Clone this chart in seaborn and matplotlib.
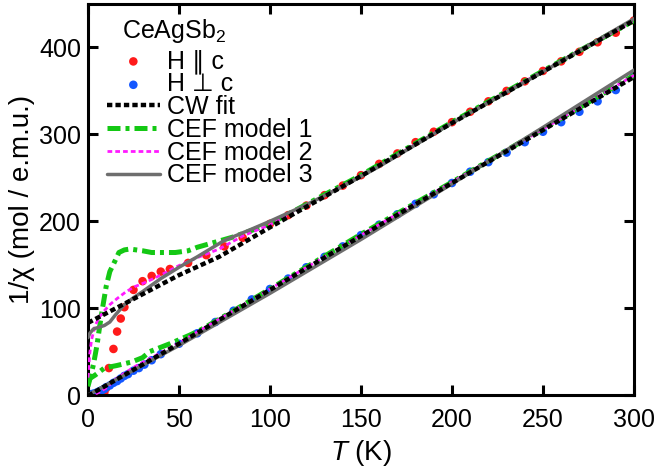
import matplotlib
matplotlib.use('Agg')
import matplotlib.pyplot as plt
import seaborn as sns

# measured 1/chi, H || c
T_par = [2, 3, 4, 5, 6, 7, 8, 9, 10, 11.5, 14, 16, 18, 20, 25, 30, 35, 40, 45,
         55, 65, 75, 85, 100, 110, 120, 130, 140, 150, 160, 170, 180, 190, 200,
         210, 220, 230, 240, 250, 260, 270, 280, 290, 300]
chi_par = [0.5, 0.5, 0.8, 1, 1.2, 1.5, 2, 3, 8, 31, 53, 73, 88, 101, 121, 131, 137, 142, 145,
           152, 161, 171, 181, 197, 207, 218, 230, 241, 253, 266, 278, 291, 303, 314,
           326, 338, 350, 361, 373, 384, 395, 406, 417, 431]

# measured 1/chi, H perp c
T_perp = [2, 3, 4, 5, 6, 7, 8, 9, 10, 12, 14, 16, 18, 20, 22, 25, 28, 31, 35, 40,
          50, 60, 70, 80, 90, 100, 110, 120, 130, 140, 150, 160, 170, 180, 190, 200,
          210, 220, 230, 240, 250, 260, 270, 280, 290, 300]
chi_perp = [1, 1.5, 2, 3, 4, 5, 6, 7, 9, 11, 14, 16, 19, 22, 24, 28, 31, 35, 40, 47,
            59, 71, 84, 97, 110, 122, 134, 147, 159, 171, 184, 196, 208, 220, 231, 244,
            257, 268, 279, 291, 303, 314, 326, 338, 351, 368]

# Curie-Weiss fits
T_cw_par = [0, 10, 30, 50, 72, 100, 150, 200, 250, 300]
cw_par = [83, 94, 116, 138, 159, 193, 252, 313, 372, 431]
T_cw_perp = [0, 50, 100, 150, 200, 250, 300]
cw_perp = [-1, 59, 121, 183, 244, 305, 366]

# CEF model 1
T_m1_par = [0, 1, 3, 5, 6.5, 8, 10, 12, 15, 17, 20, 23, 30, 35, 48, 55, 60, 65, 70,
            80, 100, 150, 200, 250, 300]
m1_par = [10, 18, 35, 58, 80, 100, 125, 142, 155, 164, 167, 168, 166, 164, 164, 166, 170, 173, 176,
          182, 197, 253, 314, 373, 431]
T_m1_perp = [0, 1, 4, 9, 16, 24, 30, 34, 45, 56, 62, 80, 100, 150, 200, 250, 300]
m1_perp = [14, 19, 23, 31, 34, 38, 43, 50, 59, 69, 75, 97, 122, 185, 245, 306, 368]

# CEF model 2
T_m2_par = [0, 1, 2, 4, 6, 9, 12, 16, 21, 26, 32, 40, 50, 60, 72, 85, 100, 150, 200, 250, 300]
m2_par = [20, 48, 64, 80, 89, 97, 104, 111, 119, 125, 130, 138, 149, 158, 168, 183, 196,
          252, 313, 373, 431]
T_m2_perp = [0, 5, 10, 15, 20, 26, 35, 50, 100, 150, 200, 250, 300]
m2_perp = [0, 2, 8, 18, 25, 33, 43, 60, 122, 184, 245, 306, 368]

# CEF model 3
T_m3_par = [0, 1, 3, 6, 9, 12, 15, 20, 25, 30, 40, 50, 60, 75, 90, 100, 120, 140, 160,
            200, 250, 300]
m3_par = [66, 71, 76, 78, 80, 84, 92, 104, 112, 119, 134, 147, 159, 178, 191, 200, 219, 240, 263,
          313, 372, 433]
T_m3_perp = [0, 50, 100, 150, 200, 250, 300]
m3_perp = [0, 57, 117, 179, 243, 308, 374]

sns.set_style('ticks')
plt.rcParams['font.family'] = ['Liberation Sans', 'DejaVu Sans']
plt.rcParams['mathtext.fontset'] = 'custom'
plt.rcParams['mathtext.rm'] = 'Liberation Sans'
plt.rcParams['mathtext.it'] = 'Liberation Sans:italic'
for k in ['text.color', 'axes.labelcolor', 'xtick.color', 'ytick.color', 'axes.edgecolor']:
    plt.rcParams[k] = 'black'

fig, ax = plt.subplots(figsize=(6.58, 4.73), dpi=100)
fig.subplots_adjust(left=0.1337, right=0.9635, top=0.9915, bottom=0.1649)

red = '#ff1a1a'
blue = '#1457ff'
green = '#14c814'
pink = '#ff1aff'
grey = '#6e6e6e'

sns.scatterplot(x=T_par, y=chi_par, color=red, s=38, edgecolor='none', label='H ∥ c', ax=ax, zorder=2)
sns.scatterplot(x=T_perp, y=chi_perp, color=blue, s=38, edgecolor='none', label='H ⊥ c', ax=ax, zorder=2)

cw_style = dict(color='black', lw=3.2, linestyle=(0, (1.2, 0.7)), zorder=6)
m1_style = dict(color=green, lw=3.6, linestyle=(0, (2.6, 1.0, 0.8, 1.0)), zorder=3)
m2_style = dict(color=pink, lw=2.0, linestyle=(0, (1.7, 1.1)), zorder=4)
m3_style = dict(color=grey, lw=2.5, linestyle='-', zorder=5)

sns.lineplot(x=T_cw_par, y=cw_par, label='CW fit', ax=ax, **cw_style)
sns.lineplot(x=T_cw_perp, y=cw_perp, ax=ax, **cw_style)
sns.lineplot(x=T_m1_par, y=m1_par, label='CEF model 1', ax=ax, **m1_style)
sns.lineplot(x=T_m1_perp, y=m1_perp, ax=ax, **m1_style)
sns.lineplot(x=T_m2_par, y=m2_par, label='CEF model 2', ax=ax, **m2_style)
sns.lineplot(x=T_m2_perp, y=m2_perp, ax=ax, **m2_style)
sns.lineplot(x=T_m3_par, y=m3_par, label='CEF model 3', ax=ax, **m3_style)
sns.lineplot(x=T_m3_perp, y=m3_perp, ax=ax, **m3_style)

ax.set_xlim(0, 300)
ax.set_ylim(0, 450)
ax.set_xticks(range(0, 301, 50))
ax.set_yticks(range(0, 401, 100))
ax.tick_params(direction='in', length=7, width=2.2, labelsize=18,
               top=True, right=True)
ax.tick_params(axis='x', pad=9)
ax.tick_params(axis='y', pad=5)
for sp in ax.spines.values():
    sp.set_linewidth(2.2)
    sp.set_visible(True)

ax.set_xlabel('$T$ (K)', fontsize=20, labelpad=5)
ax.set_ylabel('1/χ (mol / e.m.u.)', fontsize=20, labelpad=3)

handles, labels = ax.get_legend_handles_labels()
ax.legend(handles, labels, loc='upper left', bbox_to_anchor=(0.035, 0.885),
          frameon=False, borderpad=0, borderaxespad=0, handlelength=2.1,
          handletextpad=0.3, labelspacing=-0.05, fontsize=18)
ax.text(0.062, 0.931, 'CeAgSb$_2$', transform=ax.transAxes, fontsize=18, va='center', ha='left')

fig.savefig('out.png', dpi=100)
